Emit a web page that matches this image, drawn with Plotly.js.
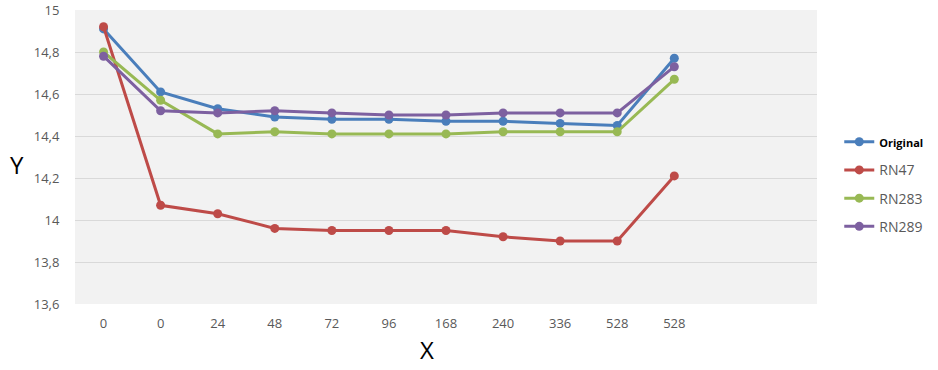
<!DOCTYPE html>
<html>
<head>
<meta charset="utf-8">
<script src="https://cdn.plot.ly/plotly-3.0.1.min.js"></script>
<style>html,body{margin:0;padding:0;background:#fff;}#chart{width:938px;height:370px;}</style>
</head>
<body>
<div id="chart"></div>
<script>
const categories = ["0", "0", "24", "48", "72", "96", "168", "240", "336", "528", "528"];
const original = [14.91, 14.61, 14.53, 14.49, 14.48, 14.48, 14.47, 14.47, 14.46, 14.45, 14.77];
const rn47 = [14.92, 14.07, 14.03, 13.96, 13.95, 13.95, 13.95, 13.92, 13.90, 13.90, 14.21];
const rn283 = [14.80, 14.57, 14.41, 14.42, 14.41, 14.41, 14.41, 14.42, 14.42, 14.42, 14.67];
const rn289 = [14.78, 14.52, 14.51, 14.52, 14.51, 14.50, 14.50, 14.51, 14.51, 14.51, 14.73];
const yTicks = [13.6, 13.8, 14, 14.2, 14.4, 14.6, 14.8, 15];

const idx = categories.map((c, i) => i);
const series = [
  {name: '<span style="font-size:11px;color:#000;font-weight:bold">Original</span>', y: original, color: '#4A7EBB'},
  {name: 'RN47', y: rn47, color: '#BE4B48'},
  {name: 'RN283', y: rn283, color: '#98B954'},
  {name: 'RN289', y: rn289, color: '#7D60A0'}
];
const traces = series.map((s, k) => ({
  type: 'scatter', mode: 'lines+markers', x: idx, y: s.y, name: s.name,
  legendgroup: 'g' + k,
  line: {color: s.color, width: 3},
  marker: {color: s.color, size: 9}
}));

const layout = {
  width: 938, height: 370,
  margin: {l: 75, r: 118, t: 10, b: 66},
  paper_bgcolor: '#ffffff', plot_bgcolor: '#f2f2f2',
  separators: ', ',
  font: {family: 'Open Sans, Arial, sans-serif', color: '#595959', size: 13},
  xaxis: {
    range: [-0.5, 12.5], tickmode: 'array', tickvals: idx, ticktext: categories,
    showgrid: false, zeroline: false, showline: false, ticks: '',
    ticklabelstandoff: 10,
    tickfont: {size: 13, color: '#595959'}, fixedrange: true
  },
  yaxis: {
    range: [13.6, 15], tickmode: 'array', tickvals: yTicks,
    tickformat: '.1~f', ticks: 'outside', ticklen: 12, tickcolor: 'rgba(0,0,0,0)',
    gridcolor: '#d9d9d9', gridwidth: 1, zeroline: false, showline: false,
    tickfont: {size: 13, color: '#595959'}, fixedrange: true
  },
  showlegend: true,
  legend: {
    x: 1.03, y: 0.605, xanchor: 'left', yanchor: 'top',
    font: {size: 14, color: '#595959'}, tracegroupgap: 7,
    bgcolor: 'rgba(0,0,0,0)', itemwidth: 30
  },
  annotations: [
    {text: 'Y', xref: 'paper', yref: 'paper', x: -0.078, y: 0.475, showarrow: false,
     xanchor: 'center', yanchor: 'middle', font: {size: 24, color: '#000'}},
    {text: 'X', xref: 'paper', yref: 'paper', x: 0.4738, y: -0.155, showarrow: false,
     xanchor: 'center', yanchor: 'middle', font: {size: 24, color: '#000'}}
  ]
};

Plotly.newPlot('chart', traces, layout, {displayModeBar: false, staticPlot: true});
</script>
</body>
</html>
